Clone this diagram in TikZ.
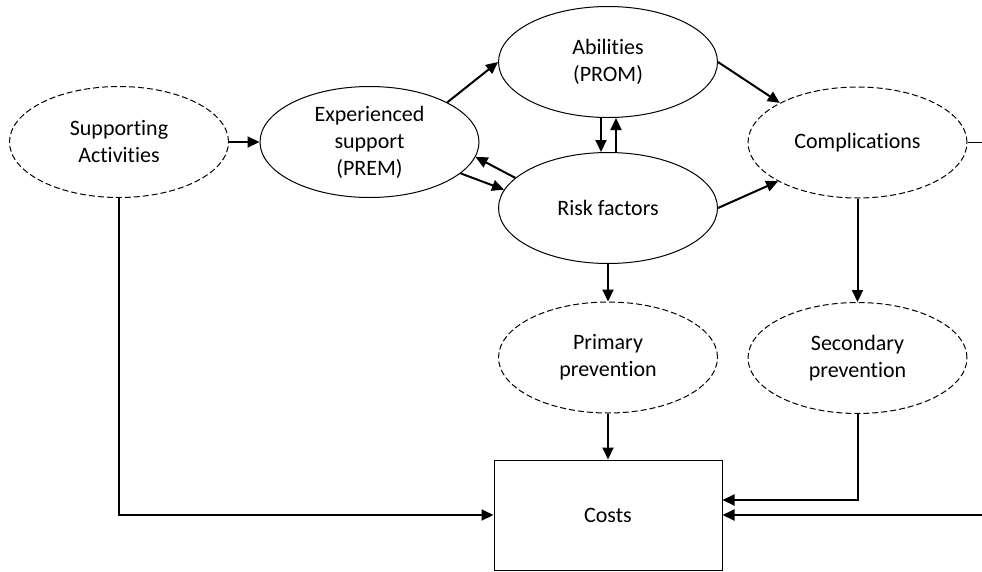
\documentclass[tikz,border=0pt]{standalone}
\usepackage{fontspec}
\setmainfont{Carlito}[Ligatures={NoCommon}]
\usetikzlibrary{shapes.geometric,arrows.meta}

\begin{document}
\begin{tikzpicture}[x=1pt, y=-1pt,
		oval/.style={ellipse, draw, line width=1pt, minimum width=219pt, minimum height=111pt, inner sep=0pt, align=center, font=\fontsize{22}{27}\selectfont},
		dashoval/.style={oval, dash pattern=on 6pt off 3pt},
		arr/.style={line width=2pt, -{Triangle[length=12pt, width=11pt]}}]
		\useasboundingbox (0,0) rectangle (982,571);

		% ellipses
		\node[dashoval] (supp) at (119, 142) {Supporting\\Activities};
		\node[oval] (exp) at (369.5, 142) {Experienced\\support\\(PREM)};
		\node[oval] (abil) at (608, 62) {Abilities\\(PROM)};
		\node[oval] (risk) at (608, 208) {Risk factors};
		\node[dashoval] (compl) at (857.5, 142.5) {Complications};
		\node[dashoval] (prim) at (608, 357.5) {Primary\\prevention};
		\node[dashoval] (sec) at (857.5, 358) {Secondary\\prevention};
		\node[draw, line width=1pt, minimum width=228pt, minimum height=110pt, font=\fontsize{22}{27}\selectfont] (costs) at (608, 515) {Costs};

		% ends at the right edge
		\coordinate (rout) at (982, 142.5);
		\coordinate (rin) at (982, 515);

		\foreach \a/\b in {supp.east/exp.west, exp.27/abil.180, abil.east/compl.153, risk.east/compl.206,
				risk.162/exp.352, exp.341/risk.170, risk.south/prim.north, compl.south/sec.north,
				prim.south/costs.north, rin/costs.east} {
				\draw[arr] (\a) -- (\b);
			}
		\draw[arr] ([xshift=-7pt]abil.south) -- ([xshift=-7pt]risk.north);
		\draw[arr] ([xshift=8pt]risk.north) -- ([xshift=8pt]abil.south);
		\draw[arr] (supp.south) |- (costs.west);
		\draw[arr] (sec.south) |- ([yshift=15pt]costs.east);
		\draw[line width=1pt] (compl.east) -- (rout);
	\end{tikzpicture}
\end{document}
